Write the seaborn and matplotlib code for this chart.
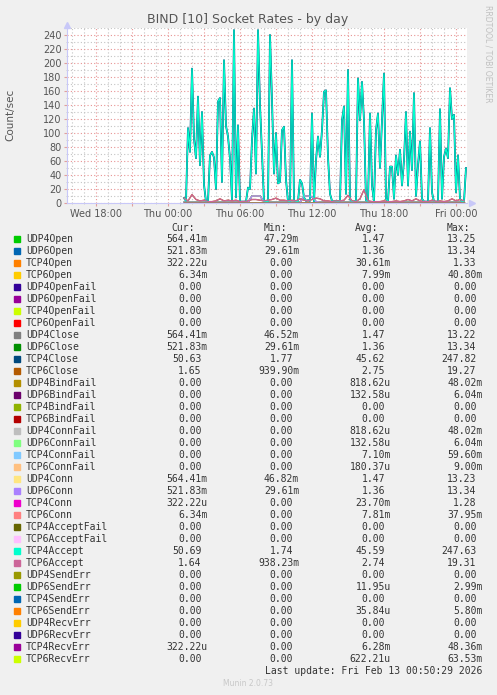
import numpy as np
import pandas as pd
import matplotlib
matplotlib.use('Agg')
import matplotlib.pyplot as plt
import matplotlib.dates as mdates
from matplotlib.patches import Rectangle
from matplotlib.ticker import MultipleLocator, FuncFormatter
import seaborn as sns

W, H = 497, 695

# legend table
names = ['UDP4Open', 'UDP6Open', 'TCP4Open', 'TCP6Open', 'UDP4OpenFail', 'UDP6OpenFail',
         'TCP4OpenFail', 'TCP6OpenFail', 'UDP4Close', 'UDP6Close', 'TCP4Close', 'TCP6Close',
         'UDP4BindFail', 'UDP6BindFail', 'TCP4BindFail', 'TCP6BindFail', 'UDP4ConnFail',
         'UDP6ConnFail', 'TCP4ConnFail', 'TCP6ConnFail', 'UDP4Conn', 'UDP6Conn', 'TCP4Conn',
         'TCP6Conn', 'TCP4AcceptFail', 'TCP6AcceptFail', 'TCP4Accept', 'TCP6Accept',
         'UDP4SendErr', 'UDP6SendErr', 'TCP4SendErr', 'TCP6SendErr', 'UDP4RecvErr',
         'UDP6RecvErr', 'TCP4RecvErr', 'TCP6RecvErr']
cur = ['564.41m', '521.83m', '322.22u', '6.34m', '0.00', '0.00', '0.00', '0.00',
       '564.41m', '521.83m', '50.63', '1.65', '0.00', '0.00', '0.00', '0.00',
       '0.00', '0.00', '0.00', '0.00', '564.41m', '521.83m', '322.22u', '6.34m',
       '0.00', '0.00', '50.69', '1.64', '0.00', '0.00', '0.00', '0.00',
       '0.00', '0.00', '322.22u', '0.00']
mins = ['47.29m', '29.61m', '0.00', '0.00', '0.00', '0.00', '0.00', '0.00',
        '46.52m', '29.61m', '1.77', '939.90m', '0.00', '0.00', '0.00', '0.00',
        '0.00', '0.00', '0.00', '0.00', '46.82m', '29.61m', '0.00', '0.00',
        '0.00', '0.00', '1.74', '938.23m', '0.00', '0.00', '0.00', '0.00',
        '0.00', '0.00', '0.00', '0.00']
avgs = ['1.47', '1.36', '30.61m', '7.99m', '0.00', '0.00', '0.00', '0.00',
        '1.47', '1.36', '45.62', '2.75', '818.62u', '132.58u', '0.00', '0.00',
        '818.62u', '132.58u', '7.10m', '180.37u', '1.47', '1.36', '23.70m', '7.81m',
        '0.00', '0.00', '45.59', '2.74', '0.00', '11.95u', '0.00', '35.84u',
        '0.00', '0.00', '6.28m', '622.21u']
maxs = ['13.25', '13.34', '1.33', '40.80m', '0.00', '0.00', '0.00', '0.00',
        '13.22', '13.34', '247.82', '19.27', '48.02m', '6.04m', '0.00', '0.00',
        '48.02m', '6.04m', '59.60m', '9.00m', '13.23', '13.34', '1.28', '37.95m',
        '0.00', '0.00', '247.63', '19.31', '0.00', '2.99m', '0.00', '5.80m',
        '0.00', '0.00', '48.36m', '63.53m']

# TCP4 accept/close rate, 10 minute samples from Thu 01:20
tcp_accept = [7, 3, 107, 73, 192, 92, 64, 152, 54, 130, 26, 2, 2, 68, 73, 65, 20, 145, 150, 30,
              204, 110, 95, 64, 5, 247, 8, 111, 2, 2, 2, 2, 22, 20, 90, 135, 42, 247, 140, 71,
              2, 2, 2, 240, 147, 42, 100, 28, 30, 104, 109, 33, 2, 2, 204, 4, 2, 2, 33, 28,
              8, 3, 4, 3, 128, 2, 61, 95, 66, 104, 159, 161, 66, 13, 3, 2, 3, 2, 3, 118,
              138, 13, 190, 5, 2, 2, 3, 178, 118, 173, 118, 4, 2, 128, 25, 2, 104, 128, 50, 116,
              185, 6, 2, 52, 52, 6, 68, 40, 76, 25, 61, 130, 25, 102, 47, 157, 10, 54, 88, 6,
              2, 2, 2, 107, 15, 2, 2, 2, 134, 6, 66, 78, 64, 164, 120, 126, 15, 68, 6, 2,
              2, 50]
# TCP6 accept/close rate, 20 minute samples from Thu 01:20
tcp6_accept = [7, 3, 12, 5, 3, 4, 2, 2, 3, 6, 3, 4, 3, 4, 2, 2, 3, 5, 5, 4,
               3, 4, 5, 7, 4, 4, 3, 4, 3, 6, 4, 3, 5, 7, 6, 3, 3, 2, 3, 3,
               4, 11, 3, 2, 6, 19, 3, 2, 2, 2, 3, 2, 2, 3, 2, 3, 5, 3, 6, 3,
               2, 2, 4, 2, 3, 2, 3, 6, 3, 5, 3]
# UDP open/close/conn rate, 20 minute samples from Thu 01:20
udp_rate = [1, 1, 1, 1, 1, 1, 1, 1, 1, 1, 1, 1, 1, 1, 1, 1, 1, 10, 10, 10,
            2, 1, 1, 1, 1, 1, 1, 1, 1, 1, 10, 10, 9, 2, 1, 1, 1, 1, 1, 1,
            1, 1, 1, 1, 1, 1, 1, 1, 1, 1, 1, 1, 1, 1, 1, 1, 1, 1, 1, 1,
            1, 1, 1, 1, 1, 1, 1, 1, 1, 1, 1]

colors = ['#00CC00', '#0066B3', '#FF8000', '#FFCC00', '#330099', '#990099', '#CCFF00', '#FF0000',
          '#808080', '#008F00', '#00487D', '#B35A00', '#B38F00', '#6B006B', '#8FB300', '#B30000',
          '#BEBEBE', '#80FF80', '#80C9FF', '#FFC080', '#FFE680', '#AA80FF', '#EE00CC', '#FF8080',
          '#666600', '#FFBFFF', '#00FFCC', '#CC6699', '#999900', '#00CC00', '#0066B3', '#FF8000',
          '#FFCC00', '#330099', '#990099', '#CCFF00']

t10 = pd.date_range('2026-02-12 01:20', periods=len(tcp_accept), freq='10min')
t20 = pd.date_range('2026-02-12 01:20', periods=len(tcp6_accept), freq='20min')
zeros = np.zeros(len(t20))
udp_names = {'UDP4Open', 'UDP6Open', 'UDP4Close', 'UDP6Close', 'UDP4Conn', 'UDP6Conn'}

fig = plt.figure(figsize=(W / 100, H / 100), dpi=100, facecolor='#F0F0F0')
ax = fig.add_axes([67 / W, 1 - 203 / H, 400 / W, 175 / H])
ax.set_facecolor('white')

for name, col in zip(names, colors):
    if name in ('TCP4Close', 'TCP4Accept'):
        x, y = t10, tcp_accept
        lw = 1.3 if name == 'TCP4Close' else 0.9
    elif name in ('TCP6Close', 'TCP6Accept'):
        x, y, lw = t20, tcp6_accept, 0.9
    elif name in udp_names:
        x, y, lw = t20, udp_rate, 0.9
    else:
        x, y, lw = t20, zeros, 0.9
    sns.lineplot(x=x, y=y, color=col, lw=lw, ax=ax, estimator=None, legend=False)

ax.set_xlim(pd.Timestamp('2026-02-11 15:35'), pd.Timestamp('2026-02-13 00:55'))
ax.set_ylim(0, 250)
ax.xaxis.set_major_locator(mdates.HourLocator(byhour=range(0, 24, 3)))
ax.xaxis.set_minor_locator(mdates.HourLocator())
ax.xaxis.set_major_formatter(FuncFormatter(
    lambda v, p: mdates.num2date(v).strftime('%a %H:%M') if mdates.num2date(v).hour % 6 == 0 else ''))
ax.yaxis.set_major_locator(MultipleLocator(20))
ax.yaxis.set_minor_locator(MultipleLocator(10))
ax.grid(which='major', color='#E89494', ls=(0, (1, 2)), lw=0.8)
ax.grid(which='minor', color='#C4C4C4', ls=(0, (1, 2)), lw=0.8)
ax.set_axisbelow(True)
ax.tick_params(which='major', length=2, color='#E0A0A0', labelsize=7, labelcolor='#555555', pad=2)
ax.tick_params(which='minor', length=1, color='#C8C8C8')
for s in ['top', 'right']:
    ax.spines[s].set_visible(False)
for s in ['left', 'bottom']:
    ax.spines[s].set_color('#C8C8F8')
    ax.spines[s].set_linewidth(0.8)
ax.plot([0], [1.02], marker='^', ms=4, color='#C8C8F8', transform=ax.transAxes, clip_on=False)
ax.plot([1.012], [0], marker='>', ms=4, color='#C8C8F8', transform=ax.transAxes, clip_on=False)
ax.set_xlabel('')
ax.set_ylabel('')

def ftext(x, y, s, **kw):
    fig.text(x / W, 1 - y / H, s, **kw)

ftext(248, 20, 'BIND [10] Socket Rates - by day', ha='center', va='center', fontsize=9, color='#555555')
ftext(10, 115, 'Count/sec', rotation=90, ha='center', va='center', fontsize=7.5, color='#555555')
ftext(488, 5, 'RRDTOOL / TOBI OETIKER', rotation=270, ha='center', va='top', fontsize=5.5, color='#C0C0C0')

mono = dict(family='DejaVu Sans Mono', fontsize=7, color='#333333', va='center')
cw = 5.9
col_edges = [201.7, 293.3, 385.0, 476.7]
for hdr, xe in zip(['Cur:', 'Min:', 'Avg:', 'Max:'], col_edges):
    ftext(xe - 6.5, 228, hdr, ha='right', **mono)

for i, name in enumerate(names):
    yy = 239 + 12 * i
    fig.patches.append(Rectangle((14 / W, 1 - (yy + 3) / H), 6 / W, 6 / H,
                                 transform=fig.transFigure, color=colors[i], figure=fig))
    ftext(26, yy, name, ha='left', **mono)
    for vals, xe in zip([cur, mins, avgs, maxs], col_edges):
        s = vals[i]
        shift = cw if s[-1] in 'mu' else 0
        ftext(xe + shift, yy, s, ha='right', **mono)

ftext(482.7, 671, 'Last update: Fri Feb 13 00:50:29 2026', ha='right', **mono)
ftext(248, 684, 'Munin 2.0.73', ha='center', va='center', fontsize=5.5, color='#C8C8C8')

fig.savefig('out.png', dpi=100, facecolor=fig.get_facecolor())
